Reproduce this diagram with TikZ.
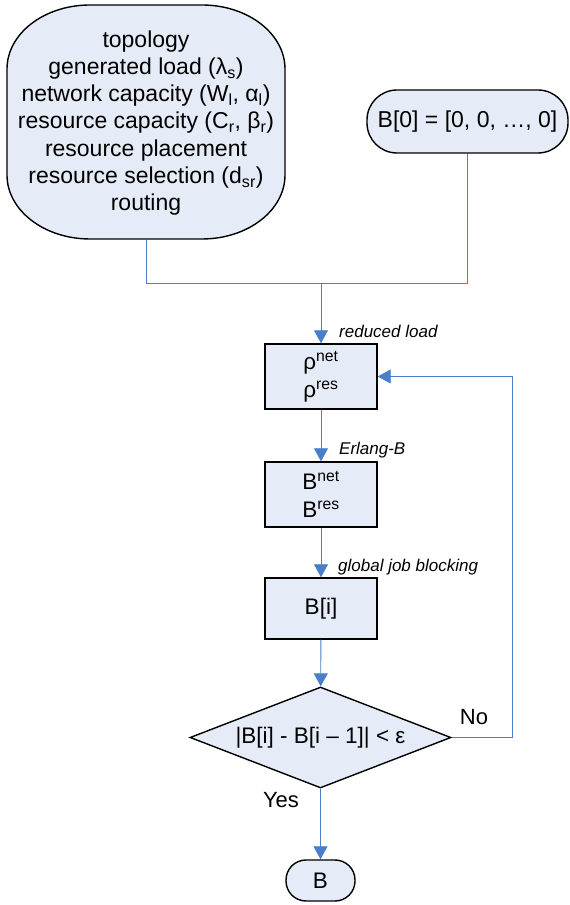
\documentclass[tikz,border=0pt]{standalone}
\usepackage{fontspec}
\setmainfont{Liberation Sans}
\usetikzlibrary{arrows.meta,shapes.geometric}
\definecolor{boxfill}{HTML}{E6ECF7}
\definecolor{link}{HTML}{4A7EC8}
\begin{document}
\begin{tikzpicture}[x=1pt,y=1pt,
  box/.style={draw=black,line width=1.4pt,fill=boxfill,inner sep=0pt,align=center,font=\fontsize{22.5}{28}\selectfont},
  procbox/.style={box,minimum width=112pt},
  termbox/.style={box},
  conn/.style={draw=link,line width=0.9pt},
  arr/.style={conn,-{Triangle[length=13pt,width=14pt]}},
  lab/.style={font=\fontsize{17}{20}\selectfont\itshape,anchor=west,inner sep=0pt},
  yn/.style={font=\fontsize{22}{26}\selectfont,inner sep=0pt}]
\useasboundingbox (0,0) rectangle (570,905);

% outline of the input shape
\draw[line width=1.4pt,fill=boxfill] (90,900) -- (202,900)
  arc[start angle=90,end angle=0,x radius=83,y radius=64] -- (285,730)
  arc[start angle=0,end angle=-90,x radius=83,y radius=64] -- (90,666)
  arc[start angle=270,end angle=180,x radius=83,y radius=64] -- (7,836)
  arc[start angle=180,end angle=90,x radius=83,y radius=64] -- cycle;
\node[inner sep=0pt,minimum width=278pt,minimum height=234pt,align=center,
      font=\fontsize{23}{27.2}\selectfont] (params) at (146,782)
  {topology\\
   generated load (λ\textsubscript{s})\\
   network capacity (W\textsubscript{l}, α\textsubscript{l})\\
   resource capacity (C\textsubscript{r}, β\textsubscript{r})\\
   resource placement\\
   resource selection (d\textsubscript{sr})\\
   routing};

\node[termbox,minimum width=201pt,minimum height=63pt,rounded corners=30pt,font=\fontsize{23}{28}\selectfont] (B0) at (467.5,783.5) {B[0] = [0, 0, …, 0]};

\node[procbox,minimum height=65pt] (rho) at (321,528.5) {ρ\textsuperscript{net}\\ρ\textsuperscript{res}};
\node[procbox,minimum height=65pt] (Bnet) at (321,410.5) {B\textsuperscript{net}\\B\textsuperscript{res}};
\node[procbox,minimum height=61pt] (Bi) at (321,296.5) {B[i]};
\node[box,diamond,shape aspect=2.584,minimum width=261pt,minimum height=101pt] (dec) at (320.5,167.5) {|B[i] - B[i – 1]| < ε};
\node[termbox,minimum width=69pt,minimum height=41pt,rounded corners=20pt] (res) at (320.5,24.5) {B};

\coordinate (mid) at (321,622);
\draw[conn] (params.south) -- (params.south |- mid) -- (B0.south |- mid) -- (B0.south);
\draw[arr] (mid) -- (rho);
\draw[arr] (rho) -- (Bnet);
\draw[arr] (Bnet) -- (Bi);
\draw[arr] (Bi) -- (dec);
\draw[arr] (dec) -- (res);
\draw[arr] (dec.east) -- ++(61,0) |- (rho.east);

\node[lab] (l1) at (339,574) {reduced load};
\node[lab] (l2) at (339,455) {Erlang-B};
\node[lab] (l3) at (338,338) {global job blocking};
\node[yn] (no) at (474,188) {No};
\node[yn] (yes) at (281,105) {Yes};
\end{tikzpicture}
\end{document}
